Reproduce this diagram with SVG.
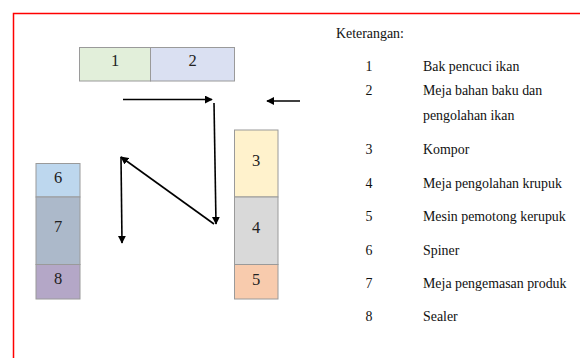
<svg xmlns="http://www.w3.org/2000/svg" width="580" height="358" viewBox="0 0 580 358">
<defs>
<marker id="ah" viewBox="0 0 10 10" refX="9" refY="5" markerWidth="8" markerHeight="8" markerUnits="userSpaceOnUse" orient="auto">
<path d="M0,0 L10,5 L0,10 Z" fill="#000"/>
</marker>
</defs>
<style>
.box{stroke:#9a9a9a;stroke-width:1}
text{font-family:"Liberation Serif","Times New Roman","DejaVu Serif",serif}
.num{font-size:16.5px;fill:#222;text-anchor:middle}
.lg{font-size:13.9px;fill:#111}
.lgn{font-size:13.9px;fill:#111;text-anchor:middle}
.cn{stroke:#000;stroke-width:1.6;fill:none}
</style>
<rect width="580" height="358" fill="#fff"/>
<path d="M13.5,358 L13.5,13.5 L580,13.5" fill="none" stroke="#ff0000" stroke-width="1.5"/>
<g id="node1"><rect class="box" x="79.5" y="47.5" width="71" height="33.5" fill="#e2efda"/><text class="num" x="115" y="66">1</text></g>
<g id="node2"><rect class="box" x="150.5" y="47.5" width="84" height="33.5" fill="#dae0f2"/><text class="num" x="192.5" y="66">2</text></g>
<g id="node3"><rect class="box" x="234.5" y="130" width="43.5" height="67" fill="#fff2cc"/><text class="num" x="256.2" y="165.5">3</text></g>
<g id="node4"><rect class="box" x="234.5" y="197" width="43.5" height="67.5" fill="#d9d9d9"/><text class="num" x="256.2" y="232.7">4</text></g>
<g id="node5"><rect class="box" x="234.5" y="264.5" width="43.5" height="34.5" fill="#f8cbad"/><text class="num" x="256.2" y="284.5">5</text></g>
<g id="node6"><rect class="box" x="36" y="163.5" width="44" height="33.5" fill="#bdd7ee"/><text class="num" x="58" y="182.7">6</text></g>
<g id="node7"><rect class="box" x="36" y="197" width="44" height="67.5" fill="#acb9ca"/><text class="num" x="58" y="232">7</text></g>
<g id="node8"><rect class="box" x="36" y="264.5" width="44" height="34.5" fill="#b4a7c7"/><text class="num" x="58" y="283.7">8</text></g>
<g id="connectors">
<line class="cn" x1="123" y1="99.5" x2="212" y2="99.5" marker-end="url(#ah)"/>
<line class="cn" x1="300" y1="101" x2="267" y2="101" marker-end="url(#ah)"/>
<line class="cn" x1="214" y1="103" x2="216" y2="224" marker-end="url(#ah)"/>
<line class="cn" x1="214" y1="224" x2="121" y2="157" marker-end="url(#ah)"/>
<line class="cn" x1="121" y1="157" x2="122" y2="243" marker-end="url(#ah)"/>
</g>
<g id="legend">
<text class="lg" x="336" y="38">Keterangan:</text>
<text class="lgn" x="369" y="71">1</text><text class="lg" x="423" y="71">Bak pencuci ikan</text>
<text class="lgn" x="369" y="94.5">2</text><text class="lg" x="423" y="94.5">Meja bahan baku dan</text>
<text class="lg" x="423" y="119.5">pengolahan ikan</text>
<text class="lgn" x="369" y="153.5">3</text><text class="lg" x="423" y="153.5">Kompor</text>
<text class="lgn" x="369" y="188">4</text><text class="lg" x="423" y="188">Meja pengolahan krupuk</text>
<text class="lgn" x="369" y="220.5">5</text><text class="lg" x="423" y="220.5">Mesin pemotong kerupuk</text>
<text class="lgn" x="369" y="254.5">6</text><text class="lg" x="423" y="254.5">Spiner</text>
<text class="lgn" x="369" y="287.5">7</text><text class="lg" x="423" y="287.5">Meja pengemasan produk</text>
<text class="lgn" x="369" y="321">8</text><text class="lg" x="423" y="321">Sealer</text>
</g>
</svg>
